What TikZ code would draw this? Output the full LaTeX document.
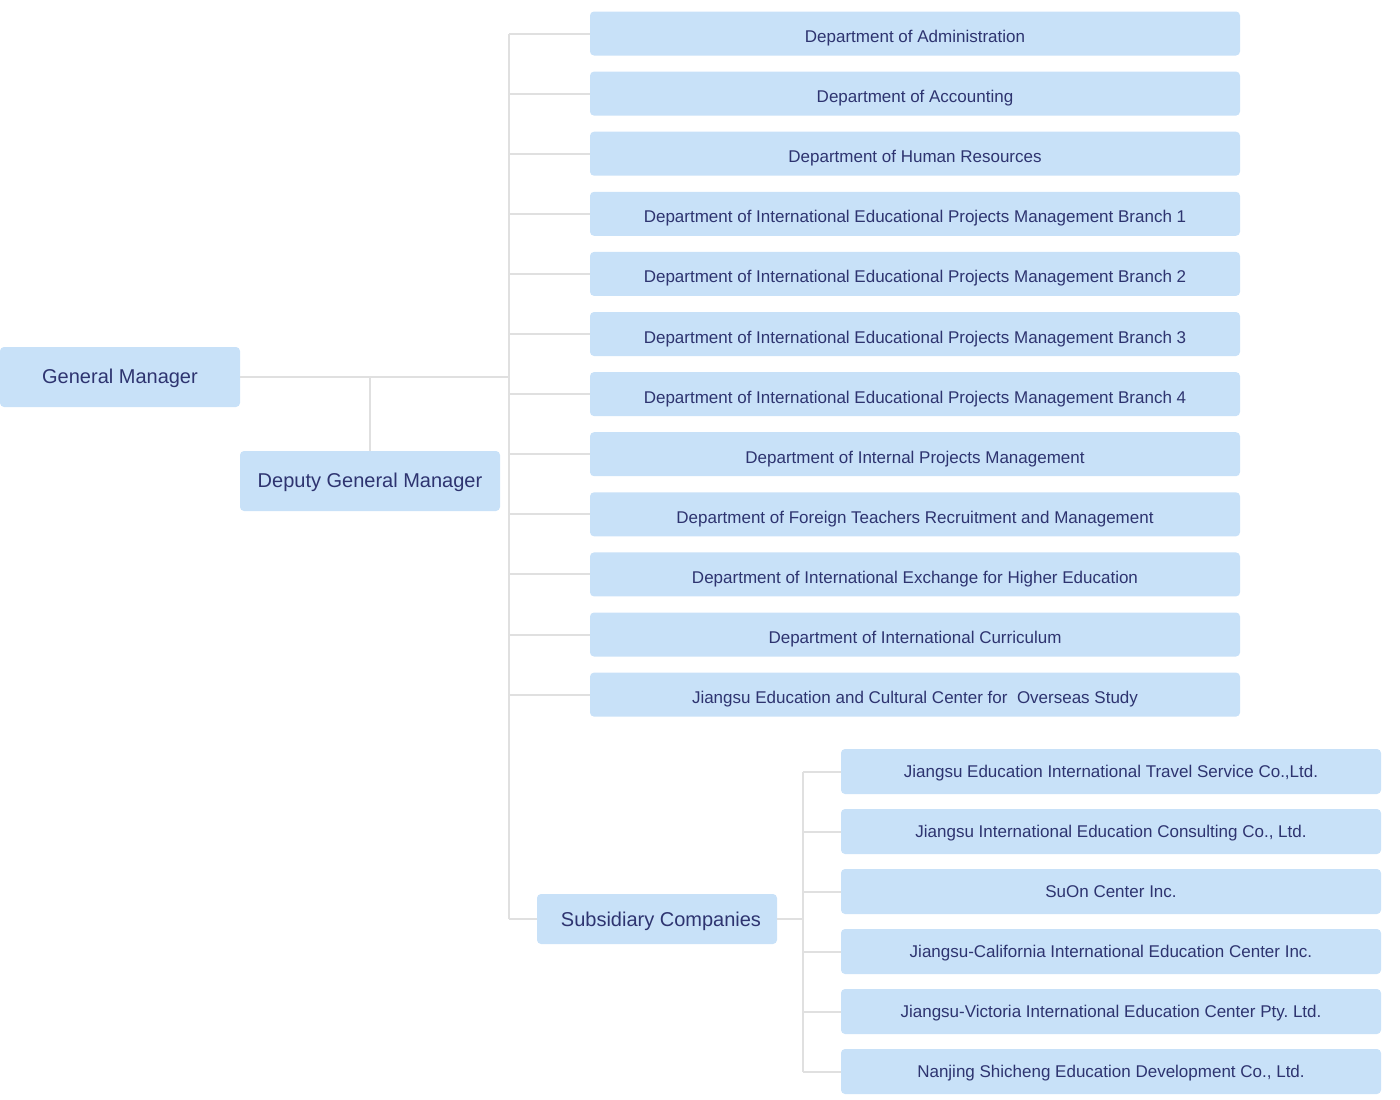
\documentclass[tikz,border=0pt]{standalone}
\usepackage{fontspec}
\setmainfont{Liberation Sans}
\frenchspacing
\definecolor{boxfill}{RGB}{200,225,248}
\definecolor{boxtext}{RGB}{46,52,112}
\definecolor{linkline}{RGB}{224,224,224}
\tikzset{
  orgbox/.style={fill=boxfill, rounded corners=4pt, inner sep=0pt, text=boxtext, align=center, text depth=0pt},
  bigbox/.style={orgbox, font=\fontsize{20}{24}\selectfont, text height=12.6pt},
  deptbox/.style={orgbox, minimum width=650pt, minimum height=44pt, font=\fontsize{17}{20}\selectfont, text height=18pt},
  subbox/.style={orgbox, minimum width=540pt, minimum height=45pt, font=\fontsize{17}{20}\selectfont, text height=11pt},
  link/.style={draw=linkline, line width=2pt}
}
\begin{document}
\begin{tikzpicture}[x=1pt,y=-1pt]
\useasboundingbox (0,0) rectangle (1400,1100);
% main boxes
\node[bigbox, minimum width=240pt, minimum height=60pt] (gm) at (120,377) {General Manager};
\node[bigbox, minimum width=260pt, minimum height=60pt] (dgm) at (370,481) {Deputy General Manager};
\node[bigbox, minimum width=240pt, minimum height=50pt, text height=14pt] (sc) at (657,919) {\hspace*{8pt}Subsidiary Companies};
% departments
\foreach \i/\t in {0/Department of Administration,
                   1/Department of Accounting,
                   2/Department of Human Resources,
                   3/Department of International Educational Projects Management Branch 1,
                   4/Department of International Educational Projects Management Branch 2,
                   5/Department of International Educational Projects Management Branch 3,
                   6/Department of International Educational Projects Management Branch 4,
                   7/Department of Internal Projects Management,
                   8/Department of Foreign Teachers Recruitment and Management,
                   9/Department of International Exchange for Higher Education,
                   10/Department of International Curriculum,
                   11/Jiangsu Education and Cultural Center for\ \ Overseas Study}{
  \node[deptbox] (d\i) at (915,{33.5+60.1*\i}) {\t};
}
% subsidiaries
\foreach \i/\t in {0/Jiangsu Education International Travel Service Co.{,}Ltd.,
                   1/Jiangsu International Education Consulting Co.{,} Ltd.,
                   2/SuOn Center Inc.,
                   3/Jiangsu-California International Education Center Inc.,
                   4/Jiangsu-Victoria International Education Center Pty. Ltd.,
                   5/Nanjing Shicheng Education Development Co.{,} Ltd.}{
  \node[subbox] (s\i) at (1111,{771.5+60*\i}) {\t};
}
% trunk coordinates
\coordinate (trunk) at (509,0);
\coordinate (subtrunk) at (803,0);
\coordinate (gmjoin) at (gm.east -| trunk);
\coordinate (dgmjoin) at (gm.east -| dgm.north);
% connectors
\draw[link] (gm.east) -- (gmjoin);
\draw[link] (dgmjoin) -- (dgm.north);
\draw[link] (d0.west -| trunk) -- (sc.west -| trunk);
\foreach \i in {0,...,11}{
  \draw[link] (d\i.west -| trunk) -- (d\i.west);
}
\draw[link] (sc.west -| trunk) -- (sc.west);
\draw[link] (sc.east) -- (sc.east -| subtrunk);
\draw[link] (s0.west -| subtrunk) -- (s5.west -| subtrunk);
\foreach \i in {0,...,5}{
  \draw[link] (s\i.west -| subtrunk) -- (s\i.west);
}
\end{tikzpicture}
\end{document}
